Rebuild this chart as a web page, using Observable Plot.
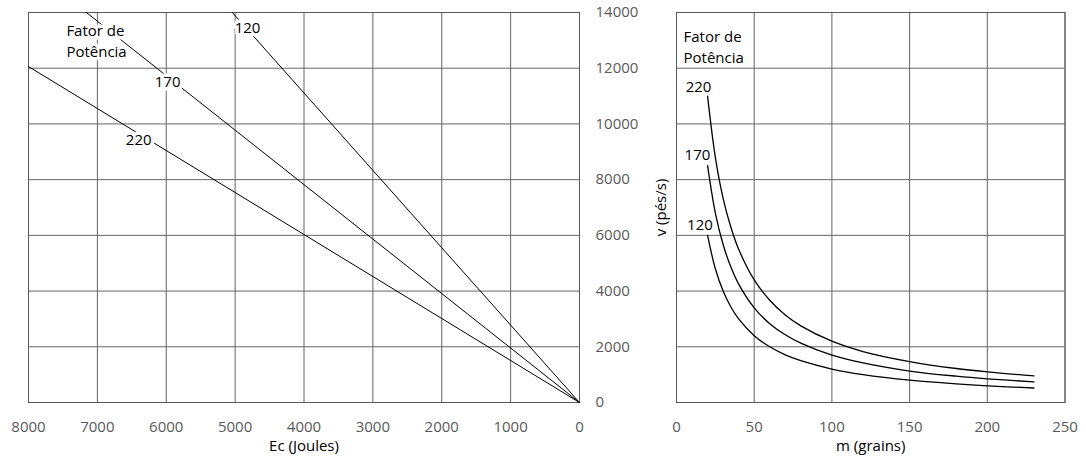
<!DOCTYPE html>
<html>
<head>
<meta charset="utf-8">
<script src="https://cdn.jsdelivr.net/npm/d3@7"></script>
<script src="https://cdn.jsdelivr.net/npm/@observablehq/plot@0.6"></script>
<style>
  html, body { margin: 0; padding: 0; background: white; }
  #chart { position: relative; width: 1086px; height: 461px; overflow: hidden; background: white; }
  #chart svg { position: absolute; top: 0; }
</style>
</head>
<body>
<div id="chart"></div>
<script>
// ---- Tick values ----
const ecTicks = [0, 1000, 2000, 3000, 4000, 5000, 6000, 7000, 8000];
const vTicks = [0, 2000, 4000, 6000, 8000, 10000, 12000, 14000];
const mTicks = [0, 50, 100, 150, 200, 250];

// ---- Left panel: v vs Ec, straight lines from origin ----
const leftFactors = ["120", "170", "220"];
const leftEndEc = [5040, 7160, 8000];
const leftEndV = [14000, 14000, 12060];
const leftLabelEc = [4820, 5980, 6400];
const leftLabelV = [13430, 11490, 9400];

// ---- Right panel: v vs m curves ----
const massGrains = [20, 25, 30, 35, 40, 50, 60, 70, 80, 100, 120, 150, 180, 200, 230];
const v120 = [6000, 4800, 4000, 3430, 3000, 2400, 2000, 1710, 1500, 1200, 1000, 800, 670, 600, 520];
const v170 = [8500, 6800, 5670, 4860, 4250, 3400, 2830, 2430, 2130, 1700, 1420, 1130, 945, 850, 740];
const v220 = [11000, 8800, 7330, 6290, 5500, 4400, 3670, 3140, 2750, 2200, 1830, 1470, 1220, 1100, 957];
const rightFactors = ["120", "170", "220"];
const rightLabelM = [15.1, 13.5, 14.2];
const rightLabelV = [6350, 8870, 11310];

const legendText = "Fator de\nPotência";

// ---- Build tables ----
const leftData = leftFactors.flatMap((f, i) => [
  {f, Ec: 0, v: 0},
  {f, Ec: leftEndEc[i], v: leftEndV[i]}
]);
const leftLabels = leftFactors.map((f, i) => ({f, Ec: leftLabelEc[i], v: leftLabelV[i]}));

const rightSeries = {"120": v120, "170": v170, "220": v220};
const rightData = rightFactors.flatMap(f => massGrains.map((m, j) => ({f, m, v: rightSeries[f][j]})));
const rightLabels = rightFactors.map((f, i) => ({f, m: rightLabelM[i], v: rightLabelV[i]}));

const font = "'Open Sans', sans-serif";
const baseStyle = {fontFamily: font, fontSize: "15px", color: "#595959", background: "white", overflow: "hidden"};
const gridColor = "#666666";

const left = Plot.plot({
  width: 640, height: 461,
  marginLeft: 28, marginRight: 61, marginTop: 12, marginBottom: 59,
  style: baseStyle,
  x: {domain: [0, 8000], reverse: true, axis: null},
  y: {domain: [0, 14000], axis: null},
  marks: [
    Plot.ruleX(ecTicks, {stroke: gridColor, strokeWidth: 1}),
    Plot.ruleY(vTicks, {stroke: gridColor, strokeWidth: 1}),
    Plot.frame({stroke: "#595959"}),
    Plot.line(leftData, {x: "Ec", y: "v", z: "f", stroke: "black", strokeWidth: 1}),
    Plot.text(leftLabels, {x: "Ec", y: "v", text: "f", fill: "black", stroke: "white", strokeWidth: 7, fontSize: 15}),
    Plot.text([legendText], {x: () => 7450, y: () => 13025, text: d => d, textAnchor: "start", lineHeight: 1.45, fill: "black", stroke: "white", strokeWidth: 7, fontSize: 15}),
    Plot.axisX(ecTicks, {anchor: "bottom", tickSize: 0, tickPadding: 19, tickFormat: "d", label: null}),
    Plot.axisY(vTicks, {anchor: "right", tickSize: 0, tickPadding: 16, tickFormat: "d", label: null}),
    Plot.text(["Ec (Joules)"], {frameAnchor: "bottom", dy: 48, fill: "black", fontSize: 15})
  ]
});

const right = Plot.plot({
  width: 446, height: 461,
  marginLeft: 36, marginRight: 21.5, marginTop: 12, marginBottom: 59,
  style: baseStyle,
  x: {domain: [0, 250], axis: null},
  y: {domain: [0, 14000], axis: null},
  marks: [
    Plot.ruleX(mTicks, {stroke: gridColor, strokeWidth: 1}),
    Plot.ruleY(vTicks, {stroke: gridColor, strokeWidth: 1}),
    Plot.frame({stroke: "#595959"}),
    Plot.line(rightData, {x: "m", y: "v", z: "f", curve: "catmull-rom", stroke: "black", strokeWidth: 1.3}),
    Plot.text(rightLabels, {x: "m", y: "v", text: "f", fill: "black", stroke: "white", strokeWidth: 6, fontSize: 15}),
    Plot.text([legendText], {x: () => 4.5, y: () => 12816, text: d => d, textAnchor: "start", lineHeight: 1.45, fill: "black", stroke: "white", strokeWidth: 6, fontSize: 15}),
    Plot.axisX(mTicks, {anchor: "bottom", tickSize: 0, tickPadding: 19, tickFormat: "d", label: null}),
    Plot.text(["m (grains)"], {frameAnchor: "bottom", dy: 48, fill: "black", fontSize: 15}),
    Plot.text(["v (pés/s)"], {frameAnchor: "left", textAnchor: "middle", rotate: -90, dx: -15, fill: "black", fontSize: 15})
  ]
});

left.style.left = "0px";
right.style.left = "640px";
const chart = document.getElementById("chart");
chart.appendChild(left);
chart.appendChild(right);
</script>
</body>
</html>
